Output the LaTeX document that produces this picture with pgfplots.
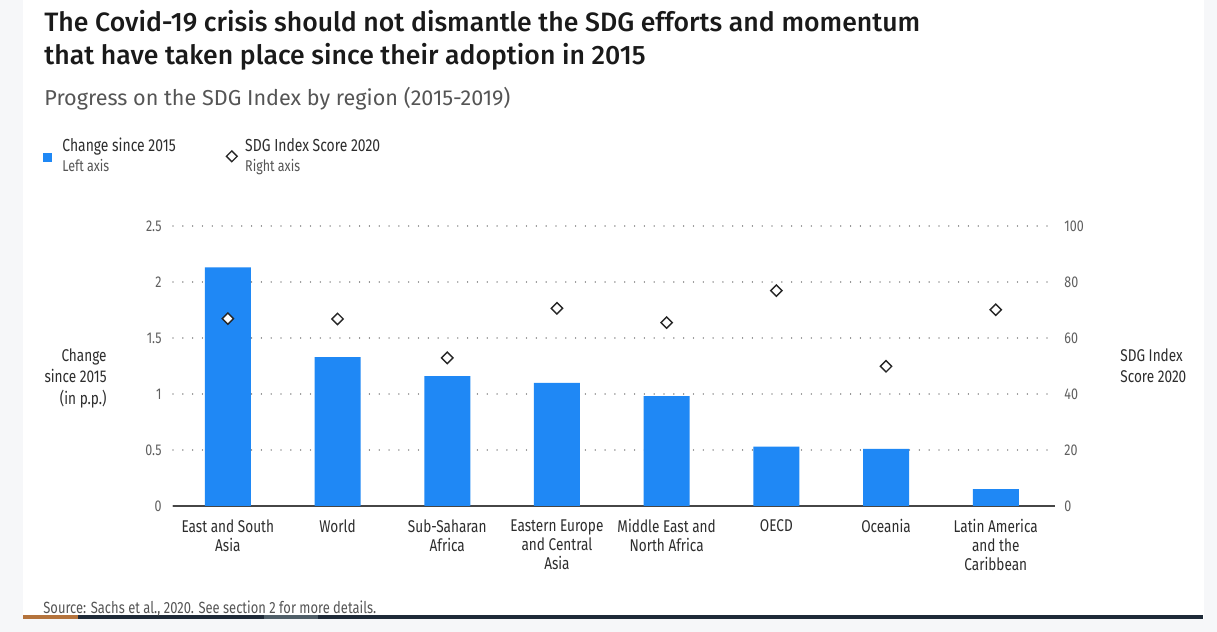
\documentclass[border=0pt]{standalone}
\usepackage{pgfplots}
\pgfplotsset{compat=1.18}
\usepackage{pgfplotstable}
\usepackage{fontspec}
\setmainfont{Fira Sans}
\newfontfamily\titlefont{Fira Sans Medium}
\newfontfamily\subfont{Fira Sans}
\newfontfamily\condfont[FakeStretch=0.8]{Fira Sans}
\definecolor{barblue}{RGB}{31,136,245}
\definecolor{titlecol}{RGB}{26,26,26}
\definecolor{subcol}{RGB}{85,85,85}
\definecolor{tickcol}{RGB}{95,95,95}
\definecolor{labcol}{RGB}{45,45,45}
\definecolor{bgcol}{RGB}{246,247,249}
\definecolor{navy}{RGB}{30,42,56}
\definecolor{copper}{RGB}{180,115,60}
\definecolor{slate}{RGB}{80,95,105}
\definecolor{gridcol}{RGB}{140,140,140}
\definecolor{axiscol}{RGB}{70,70,70}

\pgfplotstableread{
x change score
0 2.13 66.9
1 1.33 66.8
2 1.16 52.9
3 1.10 70.6
4 0.98 65.5
5 0.53 76.9
6 0.51 49.9
7 0.15 70.1
}\sdgdata

\begin{document}
\begin{tikzpicture}[x=0.5pt,y=0.5pt]
\useasboundingbox (0,0) rectangle (1217,632);
\fill[bgcol] (0,0) rectangle (1217,632);
\fill[white] (23,13) rectangle (1204,632);
\fill[navy] (23,13) rectangle (1203,16.5);
\fill[copper] (23,13) rectangle (78,16.5);
\fill[slate] (264,13) rectangle (318,16.5);

\node[anchor=base west, inner sep=0pt, font=\titlefont\fontsize{13.3}{16}\selectfont, text=titlecol] at (44,600) {The Covid-19 crisis should not dismantle the SDG efforts and momentum};
\node[anchor=base west, inner sep=0pt, font=\titlefont\fontsize{13.3}{16}\selectfont, text=titlecol] at (44,567) {that have taken place since their adoption in 2015};
\node[anchor=base west, inner sep=0pt, font=\subfont\fontsize{10.8}{12}\selectfont, text=subcol] at (44,526) {Progress on the SDG Index by region (2015-2019)};
\node[anchor=base west, inner sep=0pt, font=\condfont\fontsize{8.1}{9}\selectfont, text=subcol] at (43,18) {Source: Sachs et al., 2020. See section 2 for more details.};

\node[anchor=north east, align=right, inner sep=0pt, font=\condfont\fontsize{8.5}{10.8}\selectfont, text=labcol] at (107,284) {Change\\since 2015\\(in p.p.)};
\node[anchor=north west, align=left, inner sep=0pt, font=\condfont\fontsize{8.5}{10.8}\selectfont, text=labcol] at (1120,284) {SDG Index\\Score 2020};

\begin{axis}[
  at={(86.5pt,63pt)}, anchor=south west, scale only axis,
  width=441pt, height=140pt,
  xmin=-0.5, xmax=7.54, ymin=0, ymax=2.5,
  ytick={0,0.5,1,1.5,2,2.5}, yticklabels={0,0.5,1,1.5,2,2.5},
  xtick={0,...,7},
  xticklabels={East and South\\Asia, World, Sub-Saharan\\Africa, Eastern Europe\\and Central\\Asia, Middle East and\\North Africa, OECD, Oceania, Latin America\\and the\\Caribbean},
  axis line style={draw=none},
  major tick length=0pt,
  ymajorgrids,
  grid style={gridcol, line width=0.7pt, dash pattern=on 0.01pt off 4.9pt, line cap=round},
  extra y ticks={0}, extra y tick labels={},
  extra y tick style={grid style={solid, axiscol, line width=1.3pt, line cap=butt}},
  yticklabel style={font=\condfont\fontsize{7.8}{8}\selectfont, text=tickcol, inner sep=0pt, xshift=-5.5pt},
  xticklabel style={font=\condfont\fontsize{8.5}{9.5}\selectfont, text=labcol, align=center, inner sep=0pt, yshift=-6.5pt},
  legend style={at={(-0.1474,1.33)}, anchor=north west, draw=none, fill=none, inner sep=0pt,
    legend columns=2, font=\condfont\fontsize{8.7}{9}\selectfont, text=labcol,
    /tikz/every even column/.append style={column sep=23pt}, cells={align=left}},
  legend cell align=left,
]
\addplot[ybar, bar width=23pt, fill=barblue, draw=none,
  legend image code/.code={\fill[barblue] (0pt,-2.8pt) rectangle (4.5pt,1.7pt); \path (7.5pt,0pt);}]
  table[x=x,y=change]{\sdgdata};
\addlegendimage{legend image code/.code={\draw[black!85, fill=white, line width=0.7pt, rotate=45] (-1.9pt,-1.9pt) rectangle (1.9pt,1.9pt); \path (4.5pt,0pt);}}
\legend{Change since 2015\\[1pt]{\fontsize{7.8}{8}\selectfont\color{subcol}Left axis}, SDG Index Score 2020\\[1pt]{\fontsize{7.8}{8}\selectfont\color{subcol}Right axis}}
\end{axis}

\begin{axis}[
  at={(86.5pt,63pt)}, anchor=south west, scale only axis,
  width=441pt, height=140pt,
  xmin=-0.5, xmax=7.54, ymin=0, ymax=100,
  axis y line*=right, hide x axis,
  axis line style={draw=none},
  major tick length=0pt,
  ytick={0,20,40,60,80,100}, yticklabels={0,20,40,60,80,100},
  yticklabel style={font=\condfont\fontsize{7.8}{8}\selectfont, text=tickcol, inner sep=0pt, anchor=west, xshift=4.5pt},
  clip=false,
]
\addplot[only marks, mark=square*, mark size=2pt,
  mark options={rotate=45, fill=white, draw=black!85, line width=0.7pt}]
  table[x=x,y=score]{\sdgdata};
\end{axis}
\end{tikzpicture}
\end{document}
